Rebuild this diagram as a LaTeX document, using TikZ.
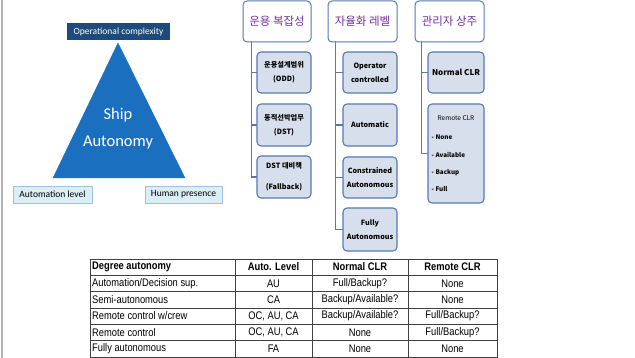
\documentclass[tikz,border=0pt]{standalone}
\usepackage{fontspec}
\setmainfont{Carlito}
\newfontfamily\krfont{Noto Sans CJK KR}
\newfontfamily\tablefont[FakeStretch=0.85]{Liberation Sans}

\definecolor{shipblue}{HTML}{1B6FBF}
\definecolor{navybox}{HTML}{1C4B7C}
\definecolor{paleblue}{HTML}{DAEEF8}
\definecolor{paleedge}{HTML}{9CC3E2}
\definecolor{treeedge}{HTML}{5679B2}
\definecolor{childfill}{HTML}{D7DFEC}
\definecolor{headpurple}{HTML}{7030A0}

\tikzset{
    label box/.style = {draw = paleedge, fill = paleblue, line width = 0.6pt,
        inner sep = 0pt, minimum height = 17pt,
        font = \fontsize{9.5}{11}\selectfont},
    header box/.style = {draw = treeedge, fill = white, line width = 1pt,
        rounded corners = 4pt, inner sep = 0pt, minimum height = 41pt,
        minimum width = 69pt, text = headpurple,
        font = \krfont\fontsize{11.5}{13}\selectfont},
    child box/.style = {draw = treeedge, fill = childfill, line width = 1.1pt,
        rounded corners = 4pt, inner sep = 0pt, minimum width = 54pt,
        minimum height = 41pt, align = center,
        font = \krfont\bfseries\fontsize{7.2}{14}\selectfont},
    trunk/.style = {draw = treeedge, line width = 1.5pt},
    table text/.style = {inner sep = 0pt, font = \tablefont\fontsize{11}{12}\selectfont},
    table head/.style = {inner sep = 0pt, font = \tablefont\bfseries\fontsize{11}{12}\selectfont}
}

\begin{document}
\begin{tikzpicture}[%
        x = 1pt,
        y = -1pt,
        line cap = round
    ]
        \useasboundingbox (0, 0) rectangle (635, 358);

        % Grey rule at the left edge.
        \draw[gray!60, line width = 1.5pt, line cap = butt] (2, 0) -- (2, 358);

        % Coordinates for the corners of the triangle.
        \coordinate (Apex) at (118, 43);
        \coordinate (Base_Left) at (53, 178);
        \coordinate (Base_Right) at (185, 178);

        % Triangle for ship autonomy.
        \filldraw[shipblue, line join = round] (Apex) -- (Base_Left) -- (Base_Right) -- cycle;
        \node[text = white, align = center, font = \fontsize{16.5}{27}\selectfont]
            (Ship_Autonomy) at (118, 129) {Ship\\Autonomy};

        % Labels round the triangle.
        \node[fill = navybox, text = white, inner sep = 0pt, minimum width = 103pt,
            minimum height = 17pt, font = \fontsize{9.5}{11}\selectfont]
            (Operational_Complexity) at (118.5, 31.5) {Operational complexity};
        \node[label box, minimum width = 79pt] (Automation_Level) at (52.5, 194.5) {Automation level};
        \node[label box, minimum width = 77pt] (Human_Presence) at (183.5, 194.5) {Human presence};

        % Headers of the three trees.
        \node[header box, minimum width = 68pt] (Header_Ops) at (277, 21.5) {운용 복잡성};
        \node[header box] (Header_Auto) at (362.5, 21.5) {자율화 레벨};
        \node[header box] (Header_Crew) at (449.5, 21.5) {관리자 상주};

        % Children of the first tree.
        \node[child box] (ODD) at (284, 72.5) {운용설계범위\\(ODD)};
        \node[child box, minimum height = 42pt] (DST) at (284, 125) {동적선박업무\\(DST)};
        \node[child box, minimum height = 42pt] (Fallback) at (284, 177) {DST 대비책\\[7pt](Fallback)};

        % Children of the second tree.
        \node[child box] (Operator) at (370, 72.5) {Operator\\controlled};
        \node[child box, minimum height = 42pt] (Automatic) at (370, 125) {Automatic};
        \node[child box] (Constrained) at (370, 177.5) {Constrained\\Autonomous};
        \node[child box, minimum height = 43pt] (Fully) at (370, 229.5) {Fully\\Autonomous};

        % Children of the third tree.
        \node[child box, minimum width = 56pt, font = \krfont\bfseries\fontsize{8}{10}\selectfont]
            (Normal_CLR) at (456, 72.5) {Normal CLR};
        \node[child box, minimum width = 56pt, minimum height = 99pt] (Remote_CLR) at (456, 153.5) {};
        \node[inner sep = 0pt, font = \krfont\fontsize{6.5}{8}\selectfont]
            (Remote_Title) at (456, 118) {Remote CLR};
        \node[inner sep = 0pt, anchor = west, align = left, font = \krfont\bfseries\fontsize{6.3}{17.4}\selectfont]
            (Remote_List) at (431.5, 163.5) {- None\\- Available\\- Backup\\- Full};

        % Trunks of the trees.
        \coordinate (Trunk_Ops) at ([xshift = 9pt]Header_Ops.south west);
        \coordinate (Trunk_Auto) at ([xshift = 8pt]Header_Auto.south west);
        \coordinate (Trunk_Crew) at ([xshift = 7pt]Header_Crew.south west);

        % Branches from the trunks to the children.
        \draw[trunk] (Trunk_Ops) |- (ODD.west);
        \draw[trunk] (Trunk_Ops) |- (DST.west);
        \draw[trunk] (Trunk_Ops) |- (Fallback.west);
        \draw[trunk] (Trunk_Auto) |- (Operator.west);
        \draw[trunk] (Trunk_Auto) |- (Automatic.west);
        \draw[trunk] (Trunk_Auto) |- (Constrained.west);
        \draw[trunk] (Trunk_Auto) |- (Fully.west);
        \draw[trunk] (Trunk_Crew) |- (Normal_CLR.west);
        \draw[trunk] (Trunk_Crew) |- (Remote_CLR.west);

        % Grid of the table.
        \draw[black!75, line width = 0.6pt, line cap = butt]
            (90, 259) rectangle (497, 357)
            (90, 275.3) -- (497, 275.3)
            (90, 291.7) -- (497, 291.7)
            (90, 308) -- (497, 308)
            (90, 324.3) -- (497, 324.3)
            (90, 340.7) -- (497, 340.7)
            (235, 259) -- (235, 357)
            (312, 259) -- (312, 357)
            (408, 259) -- (408, 357);

        % Header row of the table.
        \node[table head, anchor = west] (Head_Degree) at (92, 267) {Degree autonomy};
        \node[table head] (Head_Level) at (273.5, 267) {Auto. Level};
        \node[table head] (Head_Normal) at (360, 267) {Normal CLR};
        \node[table head] (Head_Remote) at (452.5, 267) {Remote CLR};

        % Rows of the table.
        \node[table text, anchor = west] (Decision_Degree) at (92, 283.5) {Automation/Decision sup.};
        \node[table text] (Decision_Level) at (273.5, 283.5) {AU};
        \node[table text] (Decision_Normal) at (360, 283.5) {Full/Backup?};
        \node[table text] (Decision_Remote) at (452.5, 283.5) {None};

        \node[table text, anchor = west] (Semi_Degree) at (92, 300) {Semi-autonomous};
        \node[table text] (Semi_Level) at (273.5, 300) {CA};
        \node[table text] (Semi_Normal) at (360, 300) {Backup/Available?};
        \node[table text] (Semi_Remote) at (452.5, 300) {None};

        \node[table text, anchor = west] (Crew_Degree) at (92, 316) {Remote control w/crew};
        \node[table text] (Crew_Level) at (273.5, 316) {OC, AU, CA};
        \node[table text] (Crew_Normal) at (360, 316) {Backup/Available?};
        \node[table text] (Crew_Remote) at (452.5, 316) {Full/Backup?};

        \node[table text, anchor = west] (Remote_Degree) at (92, 332.5) {Remote control};
        \node[table text] (Remote_Level) at (273.5, 332.5) {OC, AU, CA};
        \node[table text] (Remote_Normal) at (360, 332.5) {None};
        \node[table text] (Remote_Remote) at (452.5, 332.5) {Full/Backup?};

        \node[table text, anchor = west] (Fully_Degree) at (92, 349) {Fully autonomous};
        \node[table text] (Fully_Level) at (273.5, 349) {FA};
        \node[table text] (Fully_Normal) at (360, 349) {None};
        \node[table text] (Fully_Remote) at (452.5, 349) {None};
    \end{tikzpicture}
\end{document}
